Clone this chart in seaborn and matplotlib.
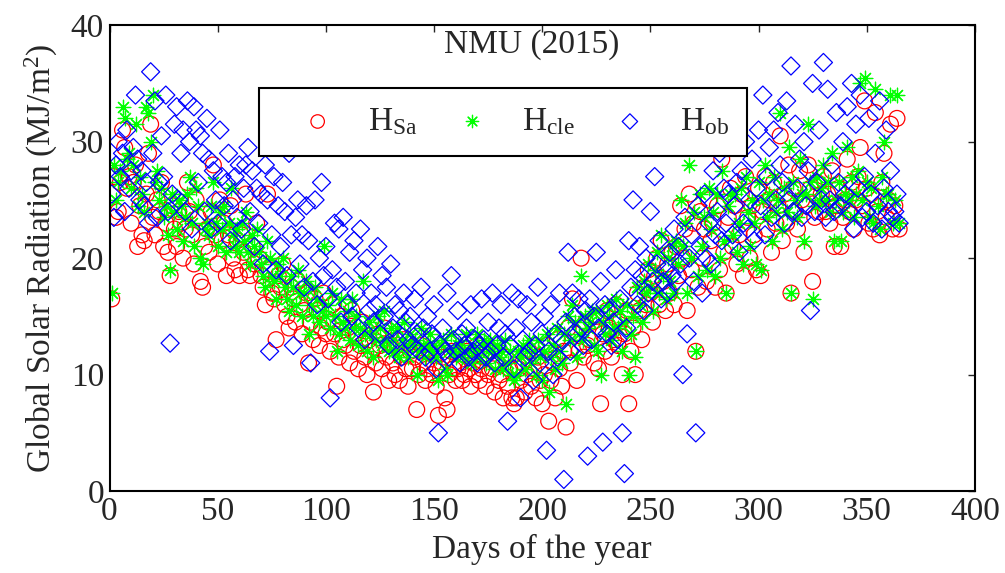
import numpy as np
import seaborn as sns
import matplotlib
matplotlib.use("Agg")
import matplotlib.pyplot as plt

# Daily values (MJ/m^2), day 1..365
days = np.arange(1, 366)

hsa = [16.5, 27.0, 23.5, 24.0, 26.5, 31.0, 29.5, 26.0, 27.0, 23.0,
       26.5, 28.0, 21.0, 24.5, 22.0, 21.5, 25.5, 29.0, 31.5, 23.5,
       22.0, 25.0, 24.0, 26.5, 21.0, 23.0, 20.5, 18.5, 24.5, 22.5,
       21.0, 24.0, 23.0, 20.0, 22.5, 26.5, 24.0, 22.0, 19.5, 25.0,
       23.5, 18.0, 17.5, 21.0, 22.5, 20.5, 24.0, 28.0, 22.0, 19.5,
       25.0, 21.5, 23.0, 18.5, 22.0, 24.5, 20.0, 19.0, 21.5, 18.5,
       22.0, 20.5, 25.5, 19.0, 18.5, 21.0, 19.5, 23.0, 20.0, 18.5,
       17.5, 16.0, 25.5, 19.0, 17.0, 16.5, 13.0, 18.5, 17.5, 19.5,
       16.0, 15.0, 14.0, 17.5, 16.5, 14.5, 18.0, 16.0, 13.5, 15.5,
       17.0, 11.0, 14.5, 13.0, 16.5, 15.5, 12.5, 14.0, 17.0, 13.5,
       14.5, 12.0, 16.0, 13.5, 9.0, 11.5, 15.0, 13.0, 12.5, 14.0,
       11.0, 15.5, 12.0, 13.5, 10.5, 12.5, 14.5, 11.5, 10.0, 13.0,
       12.0, 8.5, 11.0, 13.5, 12.5, 10.5, 14.0, 11.5, 9.5, 12.5,
       11.0, 10.0, 12.5, 9.5, 11.5, 13.0, 10.5, 9.0, 12.0, 10.5,
       11.5, 7.0, 10.0, 12.5, 11.0, 9.5, 10.5, 12.0, 10.0, 11.0,
       9.0, 6.5, 10.5, 11.5, 8.0, 7.0, 10.0, 12.0, 10.5, 9.5,
       10.5, 11.0, 9.5, 10.0, 12.0, 10.5, 9.0, 11.0, 10.0, 12.5,
       9.5, 10.5, 11.5, 9.0, 10.0, 12.0, 10.5, 8.5, 11.0, 9.5,
       10.0, 8.0, 11.5, 9.0, 10.5, 8.0, 7.5, 8.0, 10.5, 9.5,
       11.0, 8.5, 10.0, 12.0, 9.0, 10.5, 8.0, 11.5, 9.5, 7.5,
       10.0, 12.5, 6.0, 9.5, 11.0, 8.0, 13.0, 10.5, 9.0, 12.0,
       5.5, 14.0, 11.0, 16.5, 13.5, 9.5, 12.0, 20.0, 11.5, 14.5,
       12.5, 13.0, 14.5, 11.0, 15.0, 10.5, 7.5, 13.5, 12.0, 15.5,
       14.0, 11.5, 13.0, 16.0, 12.5, 14.5, 10.0, 13.5, 15.5, 7.5,
       12.0, 14.0, 10.0, 17.0, 15.5, 13.0, 17.5, 16.0, 19.0, 17.0,
       14.5, 18.5, 20.0, 16.0, 21.5, 18.0, 15.5, 19.5, 17.0, 20.5,
       16.0, 21.0, 18.5, 24.5, 20.0, 22.5, 15.5, 25.5, 19.0, 23.0,
       12.0, 17.5, 24.0, 20.0, 22.5, 18.0, 25.0, 21.5, 23.0, 17.5,
       24.5, 19.0, 28.5, 20.5, 17.0, 23.5, 26.0, 21.0, 24.5, 19.5,
       22.0, 25.5, 18.5, 27.0, 23.5, 20.0, 24.5, 22.0, 19.0, 26.0,
       18.5, 24.0, 27.0, 22.5, 25.0, 20.5, 26.5, 23.0, 24.5, 30.5,
       21.5, 25.5, 23.0, 28.0, 17.0, 26.0, 24.0, 22.5, 27.5, 25.0,
       20.5, 24.5, 28.0, 26.0, 18.0, 23.5, 26.5, 24.0, 25.5, 27.0,
       24.0, 25.5, 23.0, 27.5, 21.0, 24.5, 26.0, 21.0, 23.5, 25.0,
       28.5, 24.0, 26.5, 22.5, 25.0, 27.0, 29.5, 24.5, 33.5, 26.0,
       23.0, 25.5, 22.5, 32.5, 24.0, 22.0, 26.5, 29.0, 23.5, 25.0,
       31.5, 22.5, 24.5, 32.0, 22.5]

hcle = [17.0, 28.0, 25.0, 26.5, 27.5, 33.0, 32.0, 28.5, 29.0, 26.0,
        28.0, 31.5, 24.5, 27.0, 25.5, 24.0, 33.0, 32.5, 30.0, 34.0,
        26.5, 27.5, 25.0, 26.0, 23.5, 24.5, 22.0, 19.0, 25.5, 24.0,
        22.5, 25.0, 24.5, 21.5, 23.5, 25.5, 27.0, 23.0, 21.0, 26.0,
        24.5, 20.0, 19.5, 22.5, 23.0, 22.0, 24.5, 26.5, 23.0, 21.0,
        24.0, 22.5, 24.5, 20.5, 23.0, 26.0, 22.0, 21.0, 22.5, 20.5,
        23.0, 21.5, 24.0, 20.5, 19.5, 22.0, 21.0, 22.5, 20.5, 19.5,
        18.5, 17.5, 21.5, 20.0, 18.5, 18.0, 16.5, 19.5, 18.5, 20.0,
        17.5, 16.5, 15.5, 18.5, 17.5, 16.0, 19.0, 17.0, 15.0, 17.0,
        18.0, 13.5, 16.0, 15.0, 17.5, 16.5, 14.5, 15.5, 21.0, 15.0,
        16.0, 14.0, 17.0, 15.0, 12.0, 13.5, 16.5, 14.5, 14.0, 15.5,
        13.0, 16.5, 14.0, 15.0, 12.5, 14.0, 18.0, 13.5, 12.0, 14.5,
        13.5, 11.5, 13.0, 15.0, 14.0, 12.5, 15.5, 13.0, 12.0, 14.0,
        13.0, 12.0, 14.0, 11.5, 13.0, 14.5, 12.5, 11.5, 13.5, 12.5,
        13.0, 10.0, 12.0, 14.0, 12.5, 11.5, 12.5, 13.5, 12.0, 12.5,
        11.5, 9.5, 12.5, 13.0, 10.5, 10.0, 12.0, 13.5, 12.0, 11.5,
        12.5, 12.5, 11.5, 12.0, 13.5, 12.0, 11.0, 12.5, 12.0, 13.5,
        11.5, 12.5, 13.0, 11.0, 12.0, 13.0, 12.0, 10.5, 12.5, 11.5,
        12.0, 10.5, 13.0, 11.0, 12.0, 10.0, 9.5, 10.0, 12.0, 11.5,
        12.5, 10.5, 12.0, 13.0, 11.0, 12.0, 10.0, 13.0, 11.5, 9.5,
        12.0, 13.5, 8.5, 11.5, 12.5, 10.5, 14.0, 12.0, 11.0, 13.5,
        7.5, 15.0, 13.0, 16.0, 14.5, 11.5, 13.5, 18.5, 13.0, 15.0,
        14.0, 14.5, 15.5, 12.5, 15.5, 12.0, 10.0, 14.5, 13.5, 16.0,
        15.0, 13.0, 14.0, 16.5, 14.0, 15.5, 12.0, 14.5, 16.0, 10.0,
        13.5, 15.0, 11.5, 17.5, 16.0, 14.5, 18.0, 17.0, 19.5, 17.5,
        15.5, 19.0, 20.5, 17.0, 22.0, 18.5, 16.5, 20.0, 18.0, 21.0,
        17.0, 21.5, 19.5, 25.0, 21.0, 23.0, 17.0, 28.0, 20.0, 24.0,
        12.0, 18.5, 25.5, 21.0, 23.5, 19.0, 26.0, 22.5, 24.0, 18.5,
        25.5, 20.0, 27.5, 21.5, 17.0, 24.5, 25.5, 22.0, 25.5, 20.5,
        23.0, 26.0, 19.5, 27.0, 24.0, 21.0, 25.0, 23.0, 19.5, 26.5,
        19.0, 25.0, 28.0, 23.5, 25.5, 21.5, 27.0, 24.0, 25.0, 32.5,
        22.5, 26.0, 24.0, 29.5, 17.0, 26.5, 25.0, 23.5, 28.5, 25.5,
        21.5, 25.5, 31.5, 26.5, 16.5, 24.5, 27.0, 25.0, 26.0, 28.0,
        25.0, 26.5, 24.0, 29.0, 21.5, 25.0, 26.5, 21.5, 24.0, 25.5,
        29.5, 25.0, 27.0, 23.5, 25.5, 27.5, 35.0, 25.0, 35.5, 26.5,
        23.5, 26.0, 23.0, 34.5, 24.5, 22.5, 27.0, 30.0, 25.5, 25.5,
        34.0, 23.0, 25.0, 34.0, 23.0]

hob = [25.5, 23.5, 28.0, 30.0, 27.0, 29.0, 24.0, 31.0, 26.0, 27.5,
       29.5, 34.0, 28.5, 25.0, 27.5, 24.5, 26.5, 23.0, 36.0, 29.0,
       33.5, 23.5, 26.5, 30.5, 27.0, 34.0, 24.0, 12.7, 25.5, 31.5,
       33.0, 25.0, 29.0, 31.0, 24.0, 33.5, 30.0, 22.5, 33.0, 31.0,
       26.5, 30.5, 29.0, 24.0, 32.0, 28.5, 22.5, 27.5, 25.0, 23.0,
       31.0, 27.0, 24.5, 26.5, 29.0, 21.5, 25.0, 27.0, 23.5, 28.0,
       22.5, 26.0, 28.0, 29.5, 24.0, 27.5, 21.0, 26.0, 23.0, 25.5,
       19.5, 28.0, 25.0, 12.0, 22.0, 27.0, 19.0, 24.5, 21.0, 26.5,
       24.0, 18.5, 29.0, 22.0, 12.5, 23.5, 25.0, 19.5, 22.0, 17.5,
       24.5, 21.5, 11.0, 18.0, 25.0, 16.0, 20.0, 26.5, 18.5, 21.0,
       16.5, 8.0, 19.0, 23.0, 17.5, 22.5, 14.5, 23.5, 18.0, 16.0,
       20.5, 15.0, 21.5, 17.0, 14.0, 22.5, 19.0, 13.0, 20.0, 15.5,
       17.0, 14.5, 16.0, 21.0, 13.5, 18.5, 15.0, 17.5, 12.5, 19.5,
       14.0, 16.0, 13.0, 15.5, 11.5, 17.0, 14.5, 13.0, 15.0, 12.5,
       16.5, 13.5, 12.0, 17.5, 14.0, 11.5, 15.0, 12.0, 13.5, 16.0,
       10.5, 5.0, 12.5, 14.0, 12.0, 17.0, 11.5, 18.5, 13.0, 12.0,
       15.5, 11.0, 13.5, 12.5, 14.0, 11.5, 16.0, 12.0, 13.0, 11.0,
       12.5, 16.5, 13.0, 11.5, 14.5, 12.0, 17.0, 11.0, 12.5, 14.0,
       16.0, 11.5, 13.5, 6.0, 12.5, 17.0, 10.5, 14.0, 16.5, 8.0,
       13.0, 11.5, 16.0, 12.0, 14.5, 9.5, 12.5, 17.5, 11.0, 13.5,
       15.0, 3.5, 12.0, 16.0, 10.0, 13.5, 11.5, 17.0, 13.0, 1.0,
       14.5, 20.5, 12.0, 17.0, 15.0, 13.5, 16.5, 14.0, 12.5, 15.5,
       3.0, 16.5, 13.0, 15.0, 20.5, 14.0, 18.0, 4.2, 16.0, 13.5,
       15.5, 12.5, 14.5, 19.0, 13.0, 16.5, 5.0, 1.5, 14.0, 21.5,
       17.5, 25.0, 19.0, 16.0, 21.0, 18.5, 15.5, 20.0, 17.0, 24.0,
       18.0, 27.0, 19.5, 21.5, 16.5, 18.0, 19.0, 17.0, 20.5, 18.5,
       22.5, 18.0, 21.0, 19.5, 10.0, 23.5, 13.5, 20.0, 22.0, 18.0,
       5.0, 24.5, 21.0, 17.0, 25.5, 20.0, 23.0, 19.5, 27.5, 22.0,
       24.0, 29.0, 21.5, 26.0, 23.0, 25.5, 30.0, 22.0, 24.5, 26.5,
       20.5, 27.5, 23.0, 30.0, 22.5, 25.0, 28.5, 21.5, 26.0, 31.0,
       24.5, 34.0, 22.0, 27.0, 29.5, 23.5, 31.0, 25.0, 32.5, 28.0,
       26.5, 23.0, 33.5, 25.0, 36.5, 24.0, 31.5, 26.0, 28.5, 23.5,
       30.0, 24.5, 27.5, 15.5, 35.0, 24.0, 26.5, 31.0, 25.0, 36.8,
       23.5, 34.5, 25.0, 28.0, 24.0, 32.5, 26.5, 24.5, 30.0, 25.5,
       33.0, 24.0, 35.0, 22.5, 31.5, 26.0, 34.0, 23.5, 27.0, 24.0,
       32.0, 25.5, 23.0, 29.0, 24.5, 33.5, 22.5, 26.0, 31.0, 24.0,
       27.5, 23.5, 24.0, 25.5, 23.0]

sns.set_style("white")
plt.rcParams['font.family'] = ['Liberation Serif', 'DejaVu Serif']
plt.rcParams['mathtext.fontset'] = 'custom'
plt.rcParams['mathtext.rm'] = 'Liberation Serif'
plt.rcParams['mathtext.it'] = 'Liberation Serif:italic'

fig = plt.figure(figsize=(10.05, 5.73), dpi=100)
ax = fig.add_axes([0.109, 0.143, 0.861, 0.813])

sns.scatterplot(x=days, y=hsa, ax=ax, marker='o', s=130, color='red',
                edgecolor='red', facecolor='none', linewidth=0.9,
                label=r'H$_{\mathrm{Sa}}$')
sns.scatterplot(x=days, y=hcle, ax=ax, marker=(8, 2, 0), s=110,
                color='#00ff00', linewidth=0.9, label=r'H$_{\mathrm{cle}}$')
sns.scatterplot(x=days, y=hob, ax=ax, marker='D', s=85, color='blue',
                edgecolor='blue', facecolor='none', linewidth=0.9,
                label=r'H$_{\mathrm{ob}}$')

ax.set_xlim(0, 400)
ax.set_ylim(0, 40)
ax.set_xticks(range(0, 401, 50))
ax.set_yticks(range(0, 41, 10))
ax.tick_params(direction='in', length=5, width=1, top=True, right=True,
               labelsize=24, pad=4)
for sp in ax.spines.values():
    sp.set_linewidth(1.5)
    sp.set_color('black')

ax.set_xlabel('Days of the year', fontsize=24, labelpad=5)
ax.set_ylabel(r'Global Solar Radiation (MJ/m$^2$)', fontsize=24, labelpad=8)
ax.text(195, 38.3, 'NMU (2015)', ha='center', va='center', fontsize=24)

leg = ax.legend(loc='upper center', bbox_to_anchor=(0.455, 0.865), ncol=3,
                fontsize=24, frameon=True, fancybox=False, framealpha=1,
                edgecolor='black', handlelength=2.4, handletextpad=0.3,
                columnspacing=0.45, borderpad=0.55, borderaxespad=0,
                markerscale=0.85)
leg.get_frame().set_linewidth(1.5)

fig.savefig('out.png', dpi=100)
